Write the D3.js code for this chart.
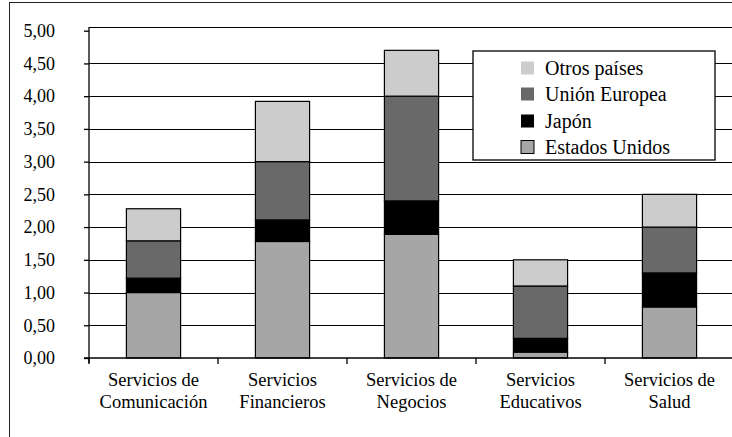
<!DOCTYPE html>
<html><head><meta charset="utf-8">
<script src="https://cdn.jsdelivr.net/npm/d3@7"></script>
<style>body{margin:0;background:#fff}svg{display:block}</style>
</head><body>
<script>
const categories = [["Servicios de","Comunicación"],["Servicios","Financieros"],["Servicios de","Negocios"],["Servicios","Educativos"],["Servicios de","Salud"]];
const seriesNames = ["Estados Unidos","Japón","Unión Europea","Otros países"];
const estadosUnidos = [1.00, 1.78, 1.89, 0.09, 0.78];
const japon = [0.22, 0.33, 0.51, 0.21, 0.52];
const unionEuropea = [0.57, 0.89, 1.60, 0.80, 0.70];
const otrosPaises = [0.49, 0.92, 0.70, 0.40, 0.50];
const yTicks = [0,0.5,1,1.5,2,2.5,3,3.5,4,4.5,5];
const colors = ["#a6a6a6","#000000","#696969","#cccccc"];

(function(){
const W=732,H=437;
const FONT='"Liberation Serif"';
const svg=d3.select("body").append("svg").attr("width",W).attr("height",H);

svg.append("rect").attr("x",9.5).attr("y",2.5).attr("width",740).attr("height",460)
  .attr("fill","none").attr("stroke","#222").attr("stroke-width",1);

const pLeft=89, pRight=734, pBottom=358, pTop=30.7, frameTop=27;
const y=d3.scaleLinear().domain([0,5]).range([pBottom,pTop]);
const keys=categories.map((c,i)=>i);
const x=d3.scaleBand().domain(keys).range([pLeft,pRight]).paddingInner(0.58).paddingOuter(0.29);

svg.append("g").selectAll("line").data(yTicks.filter(t=>t>0&&t<5)).join("line")
  .attr("x1",pLeft).attr("x2",pRight).attr("y1",d=>Math.round(y(d))+0.5).attr("y2",d=>Math.round(y(d))+0.5)
  .attr("stroke","#000").attr("stroke-width",1);
svg.append("line").attr("x1",pLeft).attr("x2",pRight).attr("y1",frameTop+0.5).attr("y2",frameTop+0.5).attr("stroke","#000");

const rows=keys.map(i=>({i, "Estados Unidos":estadosUnidos[i],"Japón":japon[i],"Unión Europea":unionEuropea[i],"Otros países":otrosPaises[i]}));
const stack=d3.stack().keys(seriesNames)(rows);
svg.append("g").selectAll("g").data(stack).join("g").attr("fill",(d,i)=>colors[i])
  .selectAll("rect").data(d=>d).join("rect")
  .attr("x",d=>x(d.data.i)).attr("width",x.bandwidth())
  .attr("y",d=>y(d[1])).attr("height",d=>y(d[0])-y(d[1]))
  .attr("stroke","#000").attr("stroke-width",1.2);

const yAxis=d3.axisLeft(y).tickValues(yTicks).tickSize(5).tickPadding(29)
  .tickFormat(d=>d3.format(".2f")(d).replace(".",","));
const ga=svg.append("g").attr("transform",`translate(${pLeft},0)`).call(yAxis);
ga.select(".domain").attr("d",`M0,${frameTop}V${pBottom+5}`).attr("stroke","#000").attr("stroke-width",1.3);
ga.selectAll(".tick line").attr("stroke","#000").attr("stroke-width",1.3);
ga.selectAll("text").style("font-family",FONT).style("font-size","18px").attr("fill","#000");

svg.append("line").attr("x1",pLeft-5).attr("x2",pRight).attr("y1",pBottom).attr("y2",pBottom).attr("stroke","#000").attr("stroke-width",1.3);
const bounds=keys.map(i=>x(i)+x.bandwidth()/2-x.step()/2);
svg.append("g").selectAll("line").data(bounds).join("line")
  .attr("x1",d=>d).attr("x2",d=>d).attr("y1",pBottom).attr("y2",pBottom+6).attr("stroke","#000").attr("stroke-width",1.3);

const cl=svg.append("g").selectAll("text").data(categories).join("text")
  .style("font-family",FONT).style("font-size","18.5px").attr("text-anchor","middle").attr("fill","#000")
  .attr("x",(d,i)=>x(i)+x.bandwidth()/2).attr("y",386);
cl.selectAll("tspan").data(d=>d).join("tspan")
  .attr("x",function(){return this.parentNode.getAttribute("x");})
  .attr("dy",(d,j)=>j===0?0:22).text(d=>d);

const lg=svg.append("g");
lg.append("rect").attr("x",473).attr("y",51).attr("width",242).attr("height",109)
  .attr("fill","#fff").attr("stroke","#000").attr("stroke-width",1.3);
const legendItems=seriesNames.map((n,i)=>({n,c:colors[i]})).reverse();
const rowY=[68,94,121,147];
const li=lg.selectAll("g.li").data(legendItems).join("g").attr("class","li")
  .attr("transform",(d,i)=>`translate(521,${rowY[i]})`);
li.append("rect").attr("x",0).attr("y",-6.5).attr("width",13).attr("height",13)
  .attr("fill",d=>d.c).attr("stroke",d=>d.n==="Estados Unidos"?"#000":"none").attr("stroke-width",1);
li.append("text").attr("x",24).attr("y",7).style("font-family",FONT).style("font-size","20px").attr("fill","#000").text(d=>d.n);
})();
</script>
</body></html>
